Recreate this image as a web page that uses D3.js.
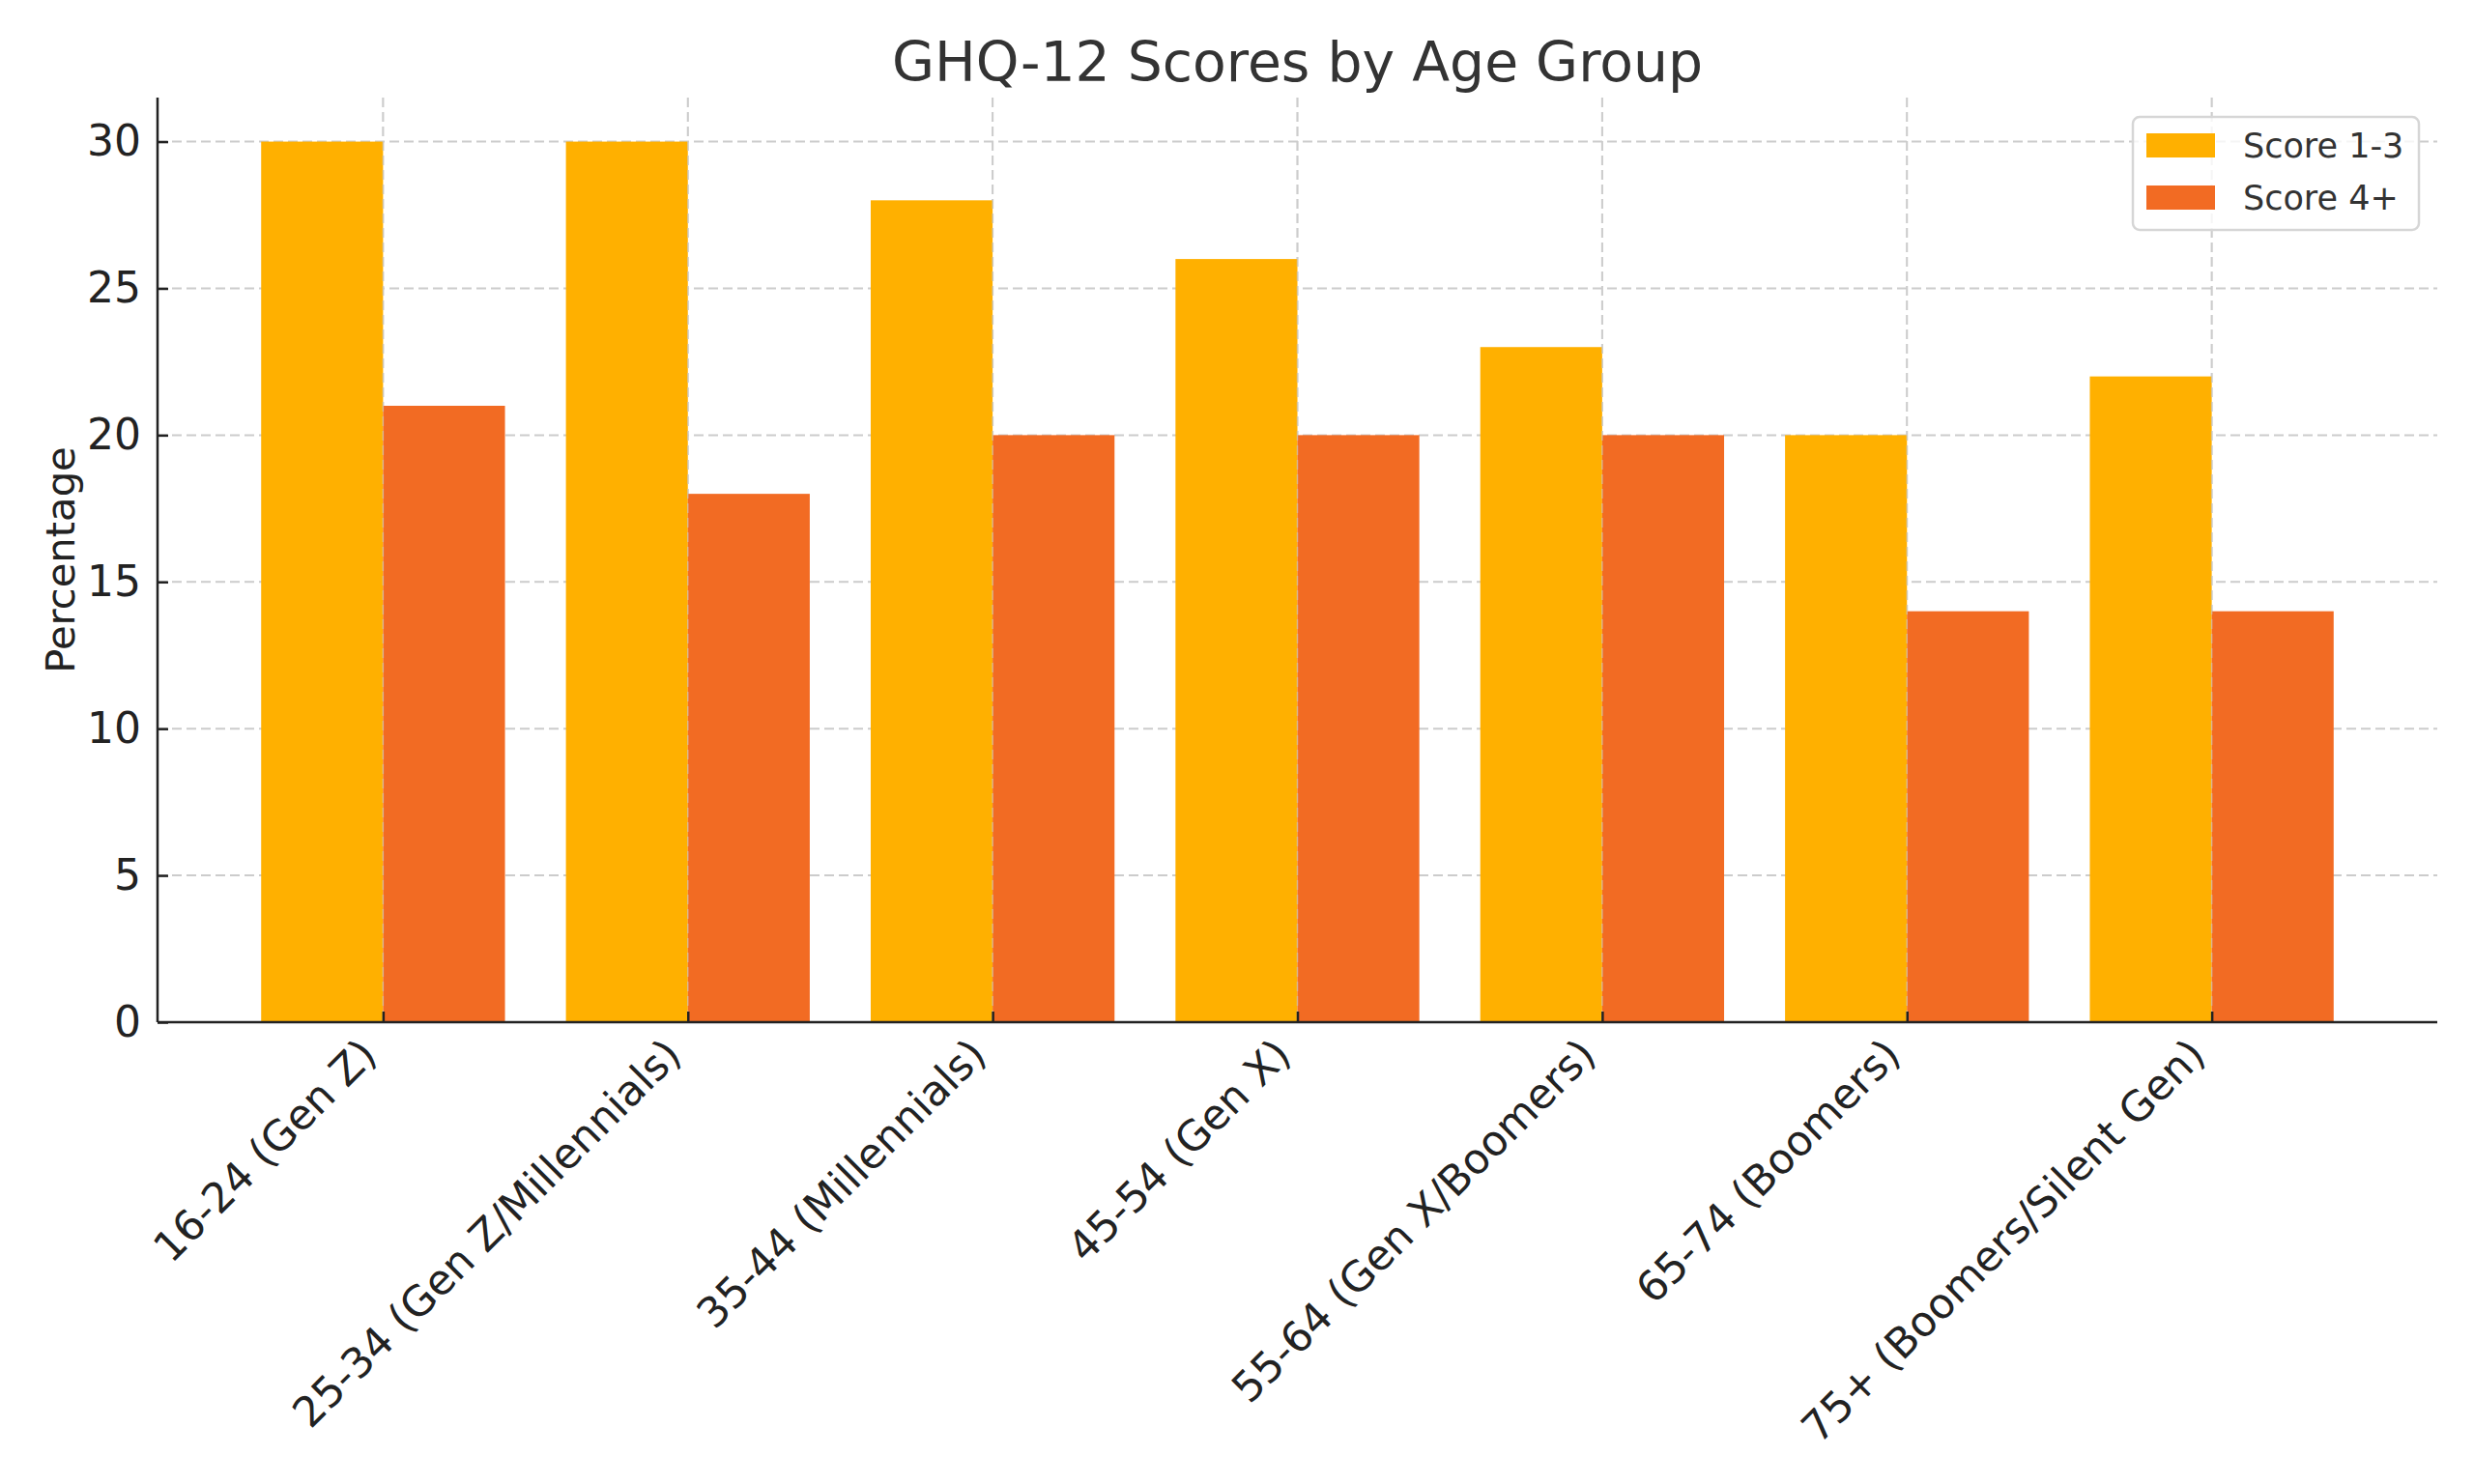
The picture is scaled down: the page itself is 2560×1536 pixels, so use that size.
<!DOCTYPE html>
<html>
<head>
<meta charset="utf-8">
<script src="https://cdn.jsdelivr.net/npm/d3@7"></script>
<style>
  html, body { margin: 0; padding: 0; background: #fff; }
  svg { display: block; font-family: "DejaVu Sans", sans-serif; }
</style>
</head>
<body>
<svg id="chart" width="2560" height="1536"></svg>
<script>
const categories = [
  "16-24 (Gen Z)",
  "25-34 (Gen Z/Millennials)",
  "35-44 (Millennials)",
  "45-54 (Gen X)",
  "55-64 (Gen X/Boomers)",
  "65-74 (Boomers)",
  "75+ (Boomers/Silent Gen)"
];
const score13 = [30, 30, 28, 26, 23, 20, 22];
const score4plus = [21, 18, 20, 20, 20, 14, 14];
const seriesNames = ["Score 1-3", "Score 4+"];
const seriesColors = ["#FFB000", "#F26B23"];
const yTicks = [0, 5, 10, 15, 20, 25, 30];

(function () {
const svg = d3.select("#chart");
const pLeft = 163, pRight = 2522, pTop = 101, pBottom = 1058;
const barW = 0.4;

const x = d3.scaleLinear().domain([-0.74, categories.length - 1 + 0.74]).range([pLeft, pRight]);
const y = d3.scaleLinear().domain([0, 31.5]).range([pBottom, pTop]);

// grid (behind bars)
svg.append("g").selectAll("line").data(yTicks).join("line")
  .attr("x1", pLeft).attr("x2", pRight)
  .attr("y1", d => y(d)).attr("y2", d => y(d))
  .attr("stroke", "#cccccc").attr("stroke-width", 2)
  .attr("stroke-dasharray", "10,5");
svg.append("g").selectAll("line").data(categories).join("line")
  .attr("x1", (d, i) => x(i)).attr("x2", (d, i) => x(i))
  .attr("y1", pTop).attr("y2", pBottom)
  .attr("stroke", "#cccccc").attr("stroke-width", 2)
  .attr("stroke-dasharray", "10,5");

// bars
const series = [score13, score4plus];
series.forEach((vals, s) => {
  svg.append("g").selectAll("rect").data(vals).join("rect")
    .attr("x", (d, i) => x(i + (s === 0 ? -barW : 0)))
    .attr("width", x(barW) - x(0))
    .attr("y", d => y(d))
    .attr("height", d => y(0) - y(d))
    .attr("fill", seriesColors[s]);
});

// vertical grid faintly visible at the bar boundary
svg.append("g").selectAll("line").data(categories).join("line")
  .attr("x1", (d, i) => x(i)).attr("x2", (d, i) => x(i))
  .attr("y1", pTop).attr("y2", pBottom)
  .attr("stroke", "#cccccc").attr("stroke-width", 1.5).attr("opacity", 0.6)
  .attr("stroke-dasharray", "10,5");

// axes
const yAxis = d3.axisLeft(y).tickValues(yTicks).tickSize(-11).tickPadding(17);
const gy = svg.append("g").attr("transform", `translate(${pLeft},0)`).call(yAxis);
gy.select(".domain").attr("stroke", "#222").attr("stroke-width", 2.5).attr("d", `M0,${pTop}V${pBottom}`);
gy.selectAll(".tick line").attr("stroke", "#222").attr("stroke-width", 2.5);
gy.selectAll(".tick text").attr("font-size", 44).attr("fill", "#222").attr("font-family", "DejaVu Sans");

const xAxis = d3.axisBottom(x).tickValues(d3.range(categories.length)).tickSize(-11).tickFormat(i => categories[i]);
const gx = svg.append("g").attr("transform", `translate(0,${pBottom})`).call(xAxis);
gx.select(".domain").attr("stroke", "#222").attr("stroke-width", 2.5).attr("d", `M${pLeft},0H${pRight}`);
gx.selectAll(".tick line").attr("stroke", "#222").attr("stroke-width", 2.5);
gx.selectAll(".tick text")
  .attr("font-size", 43.2).attr("fill", "#222").attr("font-family", "DejaVu Sans")
  .attr("text-anchor", "end")
  .attr("dy", null).attr("y", null)
  .attr("transform", "translate(-5,36) rotate(-45)");

// title
svg.append("text").attr("x", (pLeft + pRight) / 2).attr("y", 84)
  .attr("text-anchor", "middle").attr("font-size", 56.8).attr("fill", "#333")
  .text("GHQ-12 Scores by Age Group");

// y label
svg.append("text").attr("transform", `translate(77,${(pTop + pBottom) / 2}) rotate(-90)`)
  .attr("text-anchor", "middle").attr("font-size", 41.7).attr("fill", "#222")
  .text("Percentage");

// legend
const lg = svg.append("g");
lg.append("rect").attr("x", 2207).attr("y", 121).attr("width", 296).attr("height", 117)
  .attr("rx", 7).attr("fill", "#fff").attr("fill-opacity", 0.8)
  .attr("stroke", "#d6d6d6").attr("stroke-width", 2.5);
seriesNames.forEach((n, s) => {
  lg.append("rect").attr("x", 2221).attr("y", 138 + s * 54).attr("width", 71).attr("height", 25)
    .attr("fill", seriesColors[s]);
  lg.append("text").attr("x", 2321).attr("y", 163 + s * 54)
    .attr("font-size", 35).attr("fill", "#333").text(n);
});
})();
</script>
</body>
</html>
